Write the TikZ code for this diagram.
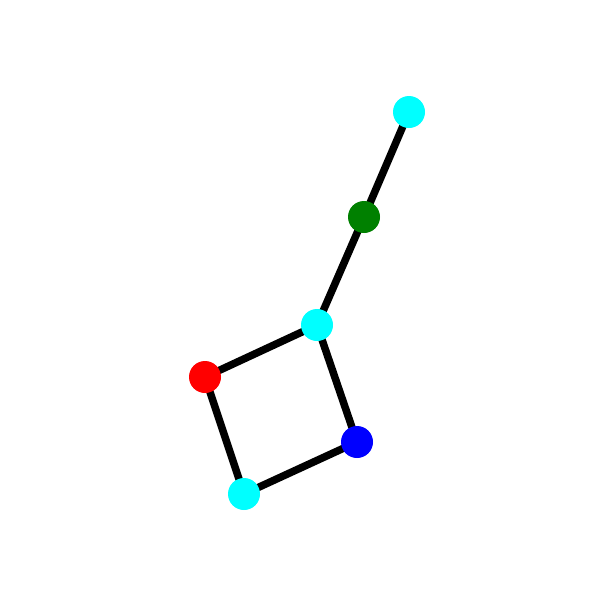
\documentclass[tikz,border=0pt]{standalone}
\usetikzlibrary{backgrounds}
\definecolor{aqua}{RGB}{0,255,255}
\definecolor{dgreen}{RGB}{0,128,0}
\definecolor{pred}{RGB}{255,0,0}
\definecolor{pblue}{RGB}{0,0,255}
\begin{document}
\begin{tikzpicture}[x=1pt,y=-1pt,
  dot/.style={circle,inner sep=0pt,minimum size=32pt,draw=none},
  edge/.style={line width=7.5pt,black}]
\useasboundingbox (0,0) rectangle (600,600);
\node[dot,fill=aqua] (na) at (409,112) {};
\node[dot,fill=dgreen] (nb) at (364,217) {};
\node[dot,fill=aqua] (nc) at (317,325) {};
\node[dot,fill=pred] (nd) at (205,377) {};
\node[dot,fill=pblue] (ne) at (357,442) {};
\node[dot,fill=aqua] (nf) at (244,494) {};
\begin{pgfonlayer}{background}
\fill[white] (0,0) rectangle (600,600);
\draw[edge] (na.center) -- (nb.center);
\draw[edge] (nb.center) -- (nc.center);
\draw[edge] (nc.center) -- (nd.center);
\draw[edge] (nc.center) -- (ne.center);
\draw[edge] (nd.center) -- (nf.center);
\draw[edge] (ne.center) -- (nf.center);
\end{pgfonlayer}
\end{tikzpicture}
\end{document}
